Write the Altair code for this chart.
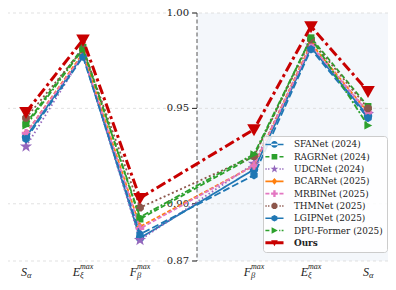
import altair as alt
import pandas as pd

# ---------------- data ----------------
models = ["SFANet (2024)", "RAGRNet (2024)", "UDCNet (2024)", "BCARNet (2025)",
          "MRBINet (2025)", "THMNet (2025)", "LGIPNet (2025)", "DPU-Former (2025)", "Ours"]

left_metrics = ["S_alpha", "E_xi_max", "F_beta_max"]
right_metrics = ["F_beta_max", "E_xi_max", "S_alpha"]

# axis label pieces (main letter, subscript, superscript)
label_main = ["S", "E", "F", "F", "E", "S"]
label_sub = ["α", "ξ", "β", "β", "ξ", "α"]
label_sup = ["", "max", "max", "max", "max", ""]

# values: [S, E, F | F, E, S]
sfanet = [0.935, 0.978, 0.882, 0.918, 0.982, 0.946]
ragrnet = [0.942, 0.982, 0.892, 0.925, 0.987, 0.951]
udcnet = [0.930, 0.978, 0.881, 0.921, 0.983, 0.947]
bcarnet = [0.937, 0.979, 0.888, 0.920, 0.984, 0.948]
mrbinet = [0.937, 0.978, 0.887, 0.920, 0.983, 0.948]
thmnet = [0.945, 0.981, 0.898, 0.925, 0.986, 0.950]
lgipnet = [0.934, 0.977, 0.884, 0.915, 0.981, 0.945]
dpuformer = [0.941, 0.981, 0.893, 0.926, 0.987, 0.941]
ours = [0.948, 0.986, 0.903, 0.939, 0.993, 0.959]
series = [sfanet, ragrnet, udcnet, bcarnet, mrbinet, thmnet, lgipnet, dpuformer, ours]

y_ticks = [0.87, 0.90, 0.95, 1.00]

# ---------------- style ----------------
colors = ["#1f77b4", "#2ca02c", "#9467bd", "#ff7f0e", "#e377c2",
          "#8c564b", "#1f77b4", "#2ca02c", "#c80000"]
dashes = [[1, 0], [5, 2.5], [1.5, 2.5], [4, 2], [4, 2],
          [2, 2.5], [7, 3], [6, 2, 2, 2], [10, 3.5, 3, 3.5]]
widths = [1.8, 1.8, 1.8, 1.8, 1.8, 1.8, 1.8, 1.8, 3.0]
sizes = [72, 66, 105, 66, 72, 72, 72, 72, 185]

circle = "M-1,0A1,1,0,1,0,1,0A1,1,0,1,0,-1,0Z"
square = "M-0.85,-0.85H0.85V0.85H-0.85Z"
star = ("M0,-1.25L0.29,-0.4L1.19,-0.39L0.48,0.16L0.73,1.01L0,0.5L-0.73,1.01"
        "L-0.48,0.16L-1.19,-0.39L-0.29,-0.4Z")
diamond = "M0,-1L0.85,0L0,1L-0.85,0Z"
plus_f = "M-0.35,-1H0.35V-0.35H1V0.35H0.35V1H-0.35V0.35H-1V-0.35H-0.35Z"
octagon = "M-0.38,-0.92L0.38,-0.92L0.92,-0.38L0.92,0.38L0.38,0.92L-0.38,0.92L-0.92,0.38L-0.92,-0.38Z"
hexagon = "M0,-1L0.87,-0.5L0.87,0.5L0,1L-0.87,0.5L-0.87,-0.5Z"
tri_right = "M1,0L-0.85,-0.95L-0.85,0.95Z"
tri_down = "M-1,-0.75H1L0,1Z"
markers = [circle, square, star, diamond, plus_f, octagon, hexagon, tri_right, tri_down]

L = 2.7
stub_kind = ["solid", "dashed", "dotted", "solid", "dashed", "dotted", "solid", "dashdot", "thick"]


def stub(kind):
    segs = {
        "solid": [(-L, L)],
        "thick": [(-L, L)],
        "dashed": [(-L, -1.5), (1.5, L)],
        "dotted": [(-L, -2.3), (-1.9, -1.5), (1.5, 1.9), (2.3, L)],
        "dashdot": [(-L, -1.5), (1.4, 1.75), (2.15, L)],
    }[kind]
    t = 0.45 if kind == "thick" else 0.24
    return "".join(f"M{a},{-t}H{b}V{t}H{a}Z" for a, b in segs)


legend_paths = [stub(k) + m for k, m in zip(stub_kind, markers)]

# ---------------- layout ----------------
W, H = 380, 248
PAD = {"top": 5, "bottom": 19, "left": 0, "right": 0}
gap = len(left_metrics)
x_pos = list(range(len(left_metrics))) + [gap + 1 + i for i in range(len(right_metrics))]
XMIN, XMAX = -0.316, 6.351

rows = []
for m, vals in zip(models, series):
    for xp, v in zip(x_pos, vals):
        rows.append({"model": m, "x": xp, "value": v})
df = pd.DataFrame(rows)

xscale = alt.Scale(domain=[XMIN, XMAX], nice=False, zero=False)
yscale = alt.Scale(domain=[0.87, 1.0], nice=False, zero=False)

xaxis = alt.Axis(values=x_pos, labels=False, ticks=True, tickSize=4, tickColor="#222",
                 domainColor="#222", domainWidth=1, grid=False, title=None, zindex=1)

one = pd.DataFrame({"a": [0]})
ticks_df = pd.DataFrame({"v": y_ticks})

right_bg = alt.Chart(one).mark_rect(color="#f4f7fb").encode(
    x=alt.XDatum(gap, scale=xscale, axis=None), x2=alt.X2Datum(XMAX),
    y=alt.YDatum(0.87, scale=yscale, axis=None), y2=alt.Y2Datum(1.0))

grid = alt.Chart(ticks_df).mark_rule(
    color="#d9d9d9", strokeDash=[3, 3], strokeWidth=0.8).encode(
    y=alt.Y("v:Q", scale=yscale, axis=None))

vline = alt.Chart(one).mark_rule(color="#555555", strokeDash=[4, 2.5], strokeWidth=1).encode(
    x=alt.XDatum(gap, scale=xscale, axis=None))

# y "axis" placed at the gap between the two blocks
ytick_marks = alt.Chart(ticks_df).mark_rule(color="#222", strokeWidth=1, x2Offset=-5).encode(
    x=alt.XDatum(gap, scale=xscale, axis=None), x2=alt.X2Datum(gap),
    y=alt.Y("v:Q", scale=yscale, axis=None))
ytick_labels = alt.Chart(ticks_df).mark_text(
    align="right", baseline="middle", dx=-8, font="DejaVu Serif", fontSize=10,
    color="#222").encode(
    x=alt.XDatum(gap, scale=xscale, axis=None),
    y=alt.Y("v:Q", scale=yscale, axis=None),
    text=alt.Text("v:Q", format=".2f"))

layers = [right_bg, grid, vline, ytick_marks, ytick_labels]
for i, m in enumerate(models):
    d = df[df.model == m]
    base = alt.Chart(d).encode(
        x=alt.X("x:Q", scale=xscale, axis=xaxis),
        y=alt.Y("value:Q", scale=yscale, axis=None))
    layers.append(base.mark_line(color=colors[i], strokeDash=dashes[i], strokeWidth=widths[i]))
    layers.append(base.mark_point(shape=markers[i], filled=True, opacity=1, size=sizes[i],
                                  color=colors[i], strokeWidth=0))

lab = pd.DataFrame({"x": x_pos, "main": label_main, "sub": label_sub, "sup": label_sup})
lab["hs"] = lab["sup"] != ""

txt = dict(font="Liberation Serif", fontStyle="italic", color="#222", baseline="alphabetic")
lab_base = alt.Chart(lab).encode(x=alt.X("x:Q", scale=xscale, axis=None))
layers += [
    lab_base.transform_filter("!datum.hs").mark_text(align="right", dx=1, fontSize=12, **txt)
    .encode(y=alt.value(H + 15), text="main:N"),
    lab_base.transform_filter("datum.hs").mark_text(align="right", dx=-3, fontSize=12, **txt)
    .encode(y=alt.value(H + 15), text="main:N"),
    lab_base.transform_filter("!datum.hs").mark_text(align="left", dx=1, fontSize=8.5, **txt)
    .encode(y=alt.value(H + 17), text="sub:N"),
    lab_base.transform_filter("datum.hs").mark_text(align="left", dx=-3, fontSize=8.5, **txt)
    .encode(y=alt.value(H + 17), text="sub:N"),
    lab_base.transform_filter("datum.hs").mark_text(align="left", dx=-3, fontSize=8, **txt)
    .encode(y=alt.value(H + 8), text="sup:N"),
]

leg = alt.Legend(title=None, orient="none", legendX=255, legendY=123,
                 fillColor="rgba(255,255,255,0.85)", strokeColor="#cccccc", cornerRadius=3,
                 padding=4, labelFont="DejaVu Serif", labelFontSize=8.9, labelColor="#222",
                 symbolSize=45, symbolStrokeWidth=0, rowPadding=2.3, labelOffset=15,
                 symbolOffset=3, labelLimit=0,
                 labelFontWeight=alt.ExprRef(expr="datum.label == 'Ours' ? 'bold' : 'normal'"))

legend_layer = alt.Chart(pd.DataFrame({"model": models})).mark_point(
    filled=True, opacity=1, size=45, strokeWidth=0).encode(
    color=alt.Color("model:N", scale=alt.Scale(domain=models, range=colors), legend=leg),
    shape=alt.Shape("model:N", scale=alt.Scale(domain=models, range=legend_paths), legend=leg),
).transform_filter("false")
layers.append(legend_layer)

chart = alt.layer(*layers).properties(
    width=W, height=H, padding=PAD, autosize=alt.AutoSizeParams(type="none")
).configure_view(fill="#fcfbf8", stroke=None)

chart.save("out.html", embed_options={"renderer": "svg", "actions": False})
